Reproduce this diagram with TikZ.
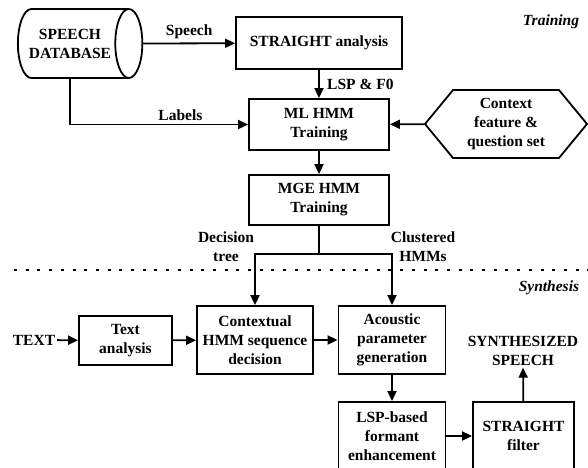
\documentclass[tikz,border=0pt]{standalone}
\usepackage{fontspec}
\setmainfont{Liberation Serif}
\usetikzlibrary{arrows.meta,positioning,calc,shapes.geometric,shapes.symbols}

\begin{document}
\begin{tikzpicture}[x=1pt,y=-1pt,line width=1.8pt,
	font=\fontsize{15.5}{19}\selectfont\bfseries,
	box/.style={draw,align=center,inner sep=0pt},
	lbl/.style={align=center,inner sep=1pt},
	arr/.style={-{Triangle[length=10pt,width=9pt]}}]
			\useasboundingbox (0,0) rectangle (588,467);
			\clip (0,0) rectangle (588,467);
			% training part
			\node[cylinder,draw,aspect=0.75,minimum width=69pt,minimum height=121pt,align=center] (db) at (70,43.5) {SPEECH\\DATABASE};
			\node[box,minimum width=166pt,minimum height=52pt] (sa) at (319,43) {STRAIGHT analysis};
			\node[box,minimum width=140pt,minimum height=51pt] (ml) at (319,124.5) {ML HMM\\Training};
			\node[signal,signal to=west and east,signal pointer angle=101,draw,align=center,inner sep=0pt,minimum width=162pt,minimum height=68pt] (ctx) at (506,124) {Context\\feature \&\\question set};
			\node[box,minimum width=140pt,minimum height=50pt] (mge) at (319,200) {MGE HMM\\Training};
			\node[lbl,anchor=east] (tr) at (581,22) {\itshape Training};
			\draw[arr] (db.east) -- node[above]{Speech} (sa);
			\draw[arr] (sa) -- node[right,xshift=4pt]{LSP \& F0} (ml);
			\draw[arr] (db.south) |- node[pos=0.81,above]{Labels} (ml);
			\draw[arr] (ctx) -- (ml);
			\draw[arr] (ml) -- (mge);
			\draw (mge.south) -- ++(0,28) coordinate (split);
			\node[lbl] (dt) at (226,247) {Decision\\tree};
			\node[lbl] (ch) at (423,247) {Clustered\\HMMs};
			\draw[dash pattern=on 3pt off 8.7pt] (14,270) -- (588,270);
			% synthesis part
			\node[lbl,anchor=east] (syn) at (581,288) {\itshape Synthesis};
			\node[lbl] (text) at (34,340) {TEXT};
			\node[box,minimum width=93pt,minimum height=49pt] (ta) at (125.5,340.5) {Text\\analysis};
			\node[box,minimum width=116pt,minimum height=68pt] (chmm) at (255,340) {Contextual\\HMM sequence\\decision};
			\node[box,minimum width=107pt,minimum height=68pt] (apg) at (392,340) {Acoustic\\parameter\\generation};
			\node[box,minimum width=107pt,minimum height=68pt] (lsp) at (392,436) {LSP-based\\formant\\enhancement};
			\node[box,minimum width=101pt,minimum height=68pt] (sf) at (523.5,436) {STRAIGHT\\filter};
			\node[lbl] (out) at (523,351) {SYNTHESIZED\\SPEECH};
			\draw[arr] (split) -| (chmm.north);
			\draw[arr] (split) -| (apg.north);
			\foreach \a/\b in {text/ta,ta/chmm,chmm/apg,apg/lsp,lsp/sf,sf/out}
			\draw[arr] (\a) -- (\b);
\end{tikzpicture}
\end{document}
